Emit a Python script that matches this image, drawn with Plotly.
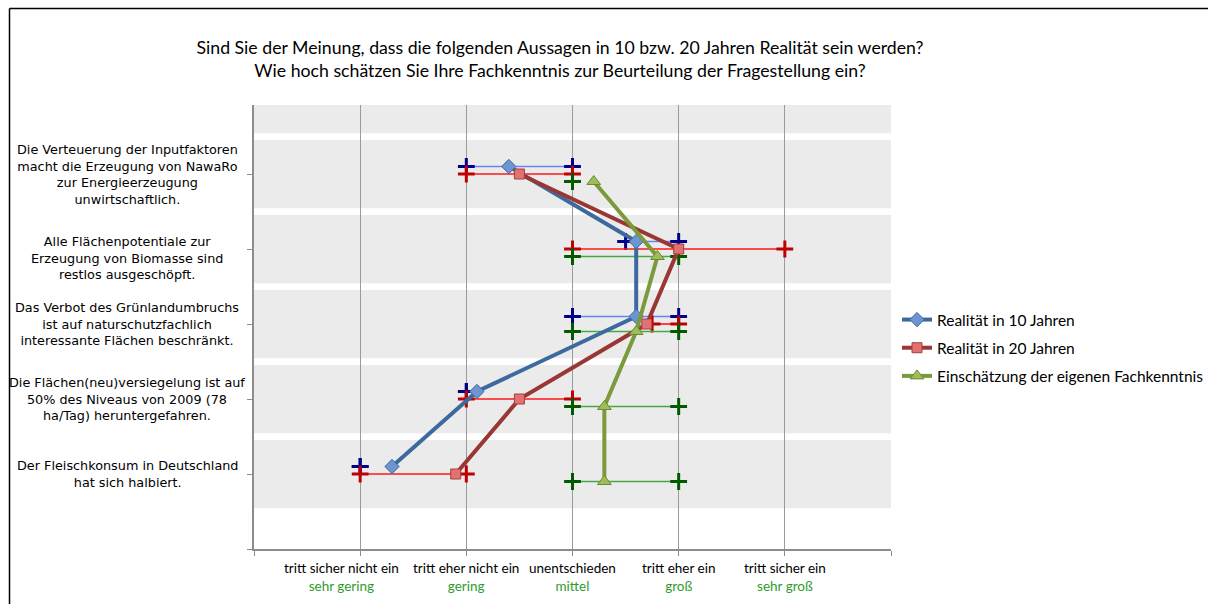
import plotly.graph_objects as go

# ---------------- data ----------------
categories = [
    "Die Verteuerung der Inputfaktoren<br>macht die Erzeugung von NawaRo<br>zur Energieerzeugung<br>unwirtschaftlich.",
    "Alle Flächenpotentiale zur<br>Erzeugung von Biomasse sind<br>restlos ausgeschöpft.",
    "Das Verbot des Grünlandumbruchs<br>ist auf naturschutzfachlich<br>interessante Flächen beschränkt.",
    "Die Flächen(neu)versiegelung ist auf<br>50% des Niveaus von 2009 (78<br>ha/Tag) heruntergefahren.",
    "Der Fleischkonsum in Deutschland<br>hat sich halbiert.",
]
cat_pos = [5, 4, 3, 2, 1]
band_pos = [1, 2, 3, 4, 5, 6]

x_tickvals = [0, 1, 2, 3, 4, 5, 6]
x_labels_top = ["", "tritt sicher nicht ein", "tritt eher nicht ein", "unentschieden",
                "tritt eher ein", "tritt sicher ein", ""]
x_labels_bottom = ["", "sehr gering", "gering", "mittel", "groß", "sehr groß", ""]

series_names = ["Realität in 10 Jahren", "Realität in 20 Jahren",
                "Einschätzung der eigenen Fachkenntnis"]

blue_mean = [2.4, 3.6, 3.6, 2.1, 1.3]
blue_lo = [2.0, 3.5, 3.0, 2.0, 1.0]
blue_hi = [3.0, 4.0, 4.0, 2.0, 1.0]

red_mean = [2.5, 4.0, 3.7, 2.5, 1.9]
red_lo = [2.0, 3.0, 3.75, 2.0, 1.0]
red_hi = [3.0, 5.0, 4.0, 3.0, 2.0]

green_mean = [3.2, 3.8, 3.6, 3.3, 3.3]
green_lo = [3.0, 3.0, 3.0, 3.0, 3.0]
green_hi = [3.0, 4.0, 4.0, 4.0, 4.0]

title_text = ("Sind Sie der Meinung, dass die folgenden Aussagen in 10 bzw. 20 Jahren Realität sein werden?"
              "<br>Wie hoch schätzen Sie Ihre Fachkenntnis zur Beurteilung der Fragestellung ein?")

# ---------------- styles ----------------
TXT_FONT = "Lato, 'Open Sans', sans-serif"
CAT_FONT = "'DejaVu Sans', Verdana, sans-serif"
GREEN_LBL = "#2E9B2E"

W, H = 1208, 604
L, R, T, B = 254, 317, 105, 55
PW, PH = W - L - R, H - T - B

styles = [
    dict(offset=0.1, line="#3D6A9E", mfill="#6C95D2", mline="#3D6A9E", symbol="diamond", size=11,
         rline="#6685EE", rplus="#00008B"),
    dict(offset=0.0, line="#9A3634", mfill="#E27272", mline="#A23E3C", symbol="square", size=10,
         rline="#FF1A1A", rplus="#C00000"),
    dict(offset=-0.1, line="#7A9A3C", mfill="#9DBD5A", mline="#6E8B30", symbol="triangle-up", size=12,
         rline="#45A845", rplus="#005A00"),
]
means = [blue_mean, red_mean, green_mean]
los = [blue_lo, red_lo, green_lo]
his = [blue_hi, red_hi, green_hi]

fig = go.Figure()

# range (spread) traces
for st, lo, hi in zip(styles, los, his):
    xs, ys = [], []
    for c, a, b in zip(cat_pos, lo, hi):
        xs += [a, b, None]
        ys += [c + st["offset"], c + st["offset"], None]
    fig.add_trace(go.Scatter(
        x=xs, y=ys, mode="lines+markers", showlegend=False, hoverinfo="skip",
        line=dict(color=st["rline"], width=1.6),
        marker=dict(symbol="cross-thin", size=12, line=dict(color=st["rplus"], width=3)),
    ))

# mean traces
for i, (st, m, name) in enumerate(zip(styles, means, series_names)):
    fig.add_trace(go.Scatter(
        x=m, y=[c + st["offset"] for c in cat_pos], mode="lines+markers", name=name,
        legendgroup=f"g{i}",
        line=dict(color=st["line"], width=4),
        marker=dict(symbol=st["symbol"], size=st["size"], color=st["mfill"],
                    line=dict(color=st["mline"], width=1)),
    ))

# background bands
shapes = []
for b in band_pos:
    shapes.append(dict(type="rect", xref="x", yref="y", x0=x_tickvals[0], x1=x_tickvals[-1],
                       y0=b - 0.455, y1=b + 0.455, fillcolor="#EBEBEB", line=dict(width=0),
                       layer="below"))
# outer frame (top and left edges visible)
frame_x0 = (9.5 - L) / PW
frame_top = (PH + T - 8.5) / PH
shapes.append(dict(type="line", xref="paper", yref="paper", x0=frame_x0, x1=(W + 5 - L) / PW,
                   y0=frame_top, y1=frame_top, line=dict(color="black", width=1.5), layer="above"))
shapes.append(dict(type="line", xref="paper", yref="paper", x0=frame_x0, x1=frame_x0,
                   y0=frame_top, y1=-(B + 5) / PH, line=dict(color="black", width=1.5), layer="above"))

annotations = []
for lbl, c in zip(categories, cat_pos):
    annotations.append(dict(text=lbl, xref="paper", yref="y", x=(127 - L) / PW, y=c, showarrow=False,
                            align="center", xanchor="center", yanchor="middle",
                            yshift=-9 if c == 4 else 0,
                            font=dict(family=CAT_FONT, size=12.8, color="black")))

# x tick labels (two lines: statement / green rating)
for tv, t, b in zip(x_tickvals, x_labels_top, x_labels_bottom):
    if not t:
        continue
    annotations.append(dict(
        text=f"{t}<br><span style='color:{GREEN_LBL}'>{b}</span>",
        xref="x", yref="paper", x=tv, y=0, yanchor="top", xanchor="center", showarrow=False,
        yshift=-9, xshift=-19 if tv == 1 else 0, align="center",
        font=dict(family=TXT_FONT, size=13.5, color="black")))

fig.update_layout(
    width=W, height=H,
    margin=dict(l=L, r=R, t=T, b=B, autoexpand=False),
    paper_bgcolor="white", plot_bgcolor="white",
    shapes=shapes, annotations=annotations,
    title=dict(text=title_text, x=560 / W, xanchor="center", xref="container",
               y=1 - 54 / H, yanchor="middle", yref="container",
               font=dict(family=TXT_FONT, size=17.7, color="black")),
    xaxis=dict(range=[0, 6], tickvals=x_tickvals, ticktext=[""] * 7, showgrid=True,
               gridcolor="#9A9A9A", gridwidth=1, zeroline=False, showline=True, linecolor="#8C8C8C",
               linewidth=1.5, ticks="outside", ticklen=5, tickcolor="#8C8C8C", automargin=False,
               fixedrange=True),
    yaxis=dict(range=[0, 5.92], tickvals=[0, 1, 2, 3, 4, 5], ticktext=[""] * 6, showgrid=False,
               zeroline=False, showline=True, linecolor="#8C8C8C", linewidth=1.5, ticks="outside",
               ticklen=5, tickcolor="#8C8C8C", fixedrange=True, automargin=False),
    legend=dict(x=(897 - L) / PW, xanchor="left", y=(549 - 348) / PH, yanchor="middle", yref="paper",
                font=dict(family=TXT_FONT, size=15.5, color="black"), bgcolor="rgba(0,0,0,0)",
                tracegroupgap=5, itemwidth=30),
    showlegend=True,
)

fig.write_html("out.html",
               config={"displayModeBar": False},
               post_script="document.body.style.margin='0';document.body.style.overflow='hidden';")
